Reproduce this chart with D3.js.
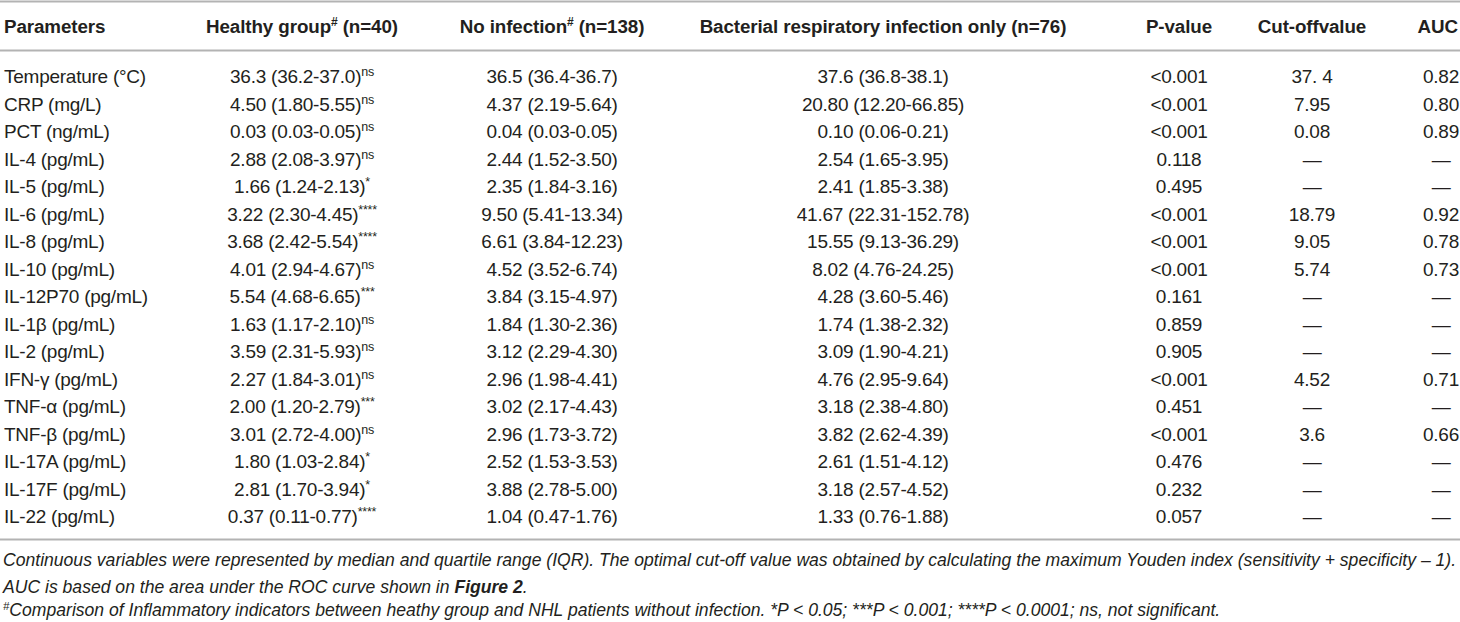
<!DOCTYPE html>
<html>
<head>
<meta charset="utf-8">
<script src="https://cdnjs.cloudflare.com/ajax/libs/d3/7.8.5/d3.min.js"></script>
<style>
  body { margin: 0; background: #fff; }
  svg text { font-family: "Liberation Sans", Arial, Helvetica, sans-serif; fill: #231f20; }
  .head { font-weight: bold; font-size: 18.8px; letter-spacing: -0.1px; }
  .cell { font-size: 19px; letter-spacing: -0.25px; }
  .note { font-style: italic; }
</style>
</head>
<body>
<div id="graphicContainer"></div>
<script>
// table content
var headers = ["Parameters", "Healthy group", "No infection", "Bacterial respiratory infection only (n=76)", "P-value", "Cut-offvalue", "AUC"]
var headerSups = ["", "#", "#", "", "", "", ""]
var headerTails = ["", " (n=40)", " (n=138)", "", "", "", ""]

var params = ["Temperature (°C)", "CRP (mg/L)", "PCT (ng/mL)", "IL-4 (pg/mL)", "IL-5 (pg/mL)", "IL-6 (pg/mL)",
	"IL-8 (pg/mL)", "IL-10 (pg/mL)", "IL-12P70 (pg/mL)", "IL-1β (pg/mL)", "IL-2 (pg/mL)", "IFN-γ (pg/mL)",
	"TNF-α (pg/mL)", "TNF-β (pg/mL)", "IL-17A (pg/mL)", "IL-17F (pg/mL)", "IL-22 (pg/mL)"]

var healthy = ["36.3 (36.2-37.0)", "4.50 (1.80-5.55)", "0.03 (0.03-0.05)", "2.88 (2.08-3.97)", "1.66 (1.24-2.13)",
	"3.22 (2.30-4.45)", "3.68 (2.42-5.54)", "4.01 (2.94-4.67)", "5.54 (4.68-6.65)", "1.63 (1.17-2.10)",
	"3.59 (2.31-5.93)", "2.27 (1.84-3.01)", "2.00 (1.20-2.79)", "3.01 (2.72-4.00)", "1.80 (1.03-2.84)",
	"2.81 (1.70-3.94)", "0.37 (0.11-0.77)"]

var healthySig = ["ns", "ns", "ns", "ns", "*", "****", "****", "ns", "***", "ns", "ns", "ns", "***", "ns", "*", "*", "****"]

var noInfection = ["36.5 (36.4-36.7)", "4.37 (2.19-5.64)", "0.04 (0.03-0.05)", "2.44 (1.52-3.50)", "2.35 (1.84-3.16)",
	"9.50 (5.41-13.34)", "6.61 (3.84-12.23)", "4.52 (3.52-6.74)", "3.84 (3.15-4.97)", "1.84 (1.30-2.36)",
	"3.12 (2.29-4.30)", "2.96 (1.98-4.41)", "3.02 (2.17-4.43)", "2.96 (1.73-3.72)", "2.52 (1.53-3.53)",
	"3.88 (2.78-5.00)", "1.04 (0.47-1.76)"]

var bacterial = ["37.6 (36.8-38.1)", "20.80 (12.20-66.85)", "0.10 (0.06-0.21)", "2.54 (1.65-3.95)", "2.41 (1.85-3.38)",
	"41.67 (22.31-152.78)", "15.55 (9.13-36.29)", "8.02 (4.76-24.25)", "4.28 (3.60-5.46)", "1.74 (1.38-2.32)",
	"3.09 (1.90-4.21)", "4.76 (2.95-9.64)", "3.18 (2.38-4.80)", "3.82 (2.62-4.39)", "2.61 (1.51-4.12)",
	"3.18 (2.57-4.52)", "1.33 (0.76-1.88)"]

var pValues = ["<0.001", "<0.001", "<0.001", "0.118", "0.495", "<0.001", "<0.001", "<0.001", "0.161", "0.859",
	"0.905", "<0.001", "0.451", "<0.001", "0.476", "0.232", "0.057"]

var cutoffs = ["37. 4", "7.95", "0.08", "—", "—", "18.79", "9.05", "5.74", "—", "—", "—", "4.52", "—", "3.6", "—", "—", "—"]

var aucs = ["0.82", "0.80", "0.89", "—", "—", "0.92", "0.78", "0.73", "—", "—", "—", "0.71", "—", "0.66", "—", "—", "—"]

var note1 = "Continuous variables were represented by median and quartile range (IQR). The optimal cut-off value was obtained by calculating the maximum Youden index (sensitivity + specificity – 1)."
var note2 = ["AUC is based on the area under the ROC curve shown in ", "Figure 2", "."]
var note3 = "Comparison of Inflammatory indicators between heathy group and NHL patients without infection. *P < 0.05; ***P < 0.001; ****P < 0.0001; ns, not significant."

var width = 1460
var height = 622

var svg = d3.select("#graphicContainer").append("svg")
	.attr("width", width)
	.attr("height", height)

// column anchors: first column left aligned, rest centred
var colX = [4, 302, 552, 883, 1179, 1312, 1441]
var rowY = d3.scalePoint()
	.domain(d3.range(params.length))
	.range([83, 523])

var lineColor = "#b3b3b3"
;[1.5, 50.5, 539.5].forEach(function (y) {
	svg.append("line")
		.attr("x1", 0).attr("x2", width)
		.attr("y1", y).attr("y2", y)
		.attr("stroke", lineColor)
		.attr("stroke-width", 2.2)
})

// header row
headers.forEach(function (h, i) {
	var last = i === headers.length - 1
	var t = svg.append("text")
		.attr("class", "head")
		.attr("x", last ? 1458 : colX[i])
		.attr("y", 33)
		.attr("text-anchor", i === 0 ? "start" : (last ? "end" : "middle"))
	t.append("tspan").text(h)
	if (headerSups[i]) {
		t.append("tspan").attr("font-size", 12).attr("dy", -7).text(headerSups[i])
		t.append("tspan").attr("dy", 7).text(headerTails[i])
	}
})

// body rows
var rows = svg.selectAll(".row")
	.data(params)
	.enter()
	.append("g")
	.attr("class", "row")
	.attr("transform", (d, i) => "translate(0," + rowY(i) + ")")

rows.append("text")
	.attr("class", "cell")
	.attr("x", colX[0])
	.text(d => d)

var hText = rows.append("text")
	.attr("class", "cell")
	.attr("x", colX[1])
	.attr("text-anchor", "middle")
hText.append("tspan").text((d, i) => healthy[i])
hText.append("tspan")
	.attr("font-size", 12.5)
	.attr("dy", -7)
	.text((d, i) => healthySig[i])

var otherCols = [noInfection, bacterial, pValues, cutoffs, aucs]
otherCols.forEach(function (col, c) {
	rows.append("text")
		.attr("class", "cell")
		.attr("x", colX[c + 2])
		.attr("text-anchor", "middle")
		.text((d, i) => col[i])
})

// footnotes, sized so the first line fills the width
var noteSize = 17
var probe = svg.append("text")
	.attr("class", "note")
	.attr("font-size", noteSize)
	.text(note1)
var natural = probe.node().getComputedTextLength()
probe.remove()
noteSize = noteSize * 1454 / natural

svg.append("text")
	.attr("class", "note")
	.attr("x", 3)
	.attr("y", 566)
	.attr("font-size", noteSize)
	.text(note1)

var n2 = svg.append("text")
	.attr("class", "note")
	.attr("x", 3)
	.attr("y", 593)
	.attr("font-size", noteSize)
n2.append("tspan").text(note2[0])
n2.append("tspan").attr("font-weight", "bold").text(note2[1])
n2.append("tspan").text(note2[2])

var n3 = svg.append("text")
	.attr("class", "note")
	.attr("x", 3)
	.attr("y", 616)
	.attr("font-size", noteSize)
n3.append("tspan").attr("font-size", noteSize * 0.65).attr("dy", -6).text("#")
n3.append("tspan").attr("dy", 6).text(note3)
</script>
</body>
</html>
